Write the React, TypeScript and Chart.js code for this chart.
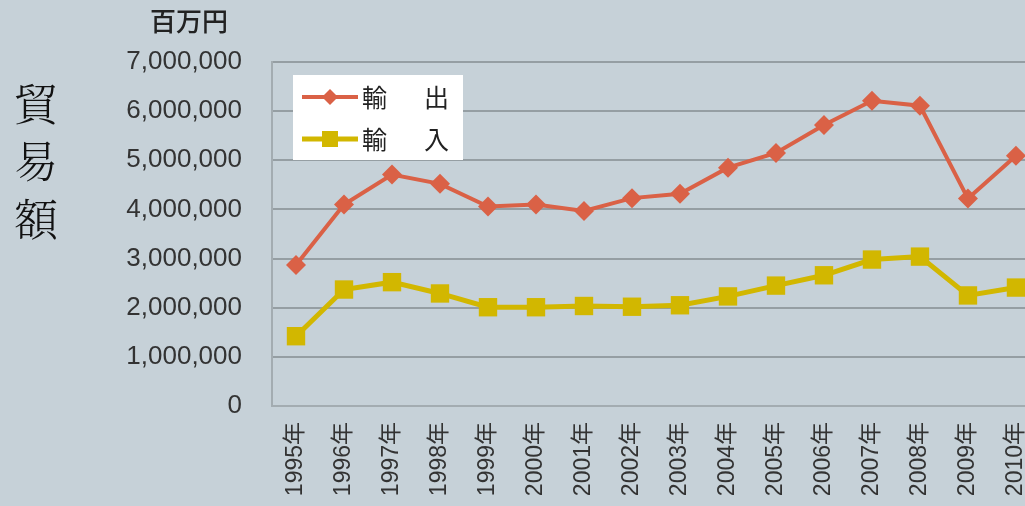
import React, { useEffect, useRef } from "react";
import { Chart, registerables } from "chart.js";

Chart.register(...registerables);

const years = [
  "1995年", "1996年", "1997年", "1998年", "1999年", "2000年", "2001年", "2002年",
  "2003年", "2004年", "2005年", "2006年", "2007年", "2008年", "2009年", "2010年",
];
const exportValues = [
  2870000, 4100000, 4710000, 4520000, 4060000, 4100000, 3970000, 4230000,
  4320000, 4850000, 5150000, 5720000, 6210000, 6110000, 4220000, 5090000,
];
const importValues = [
  1420000, 2370000, 2520000, 2290000, 2010000, 2010000, 2035000, 2020000,
  2050000, 2230000, 2450000, 2660000, 2980000, 3040000, 2250000, 2410000,
];
const seriesLabels = ["輸　出", "輸　入"];
const yTitle = "百万円";
const sideTitle = ["貿", "易", "額"];
const yTicks = { min: 0, max: 7000000, step: 1000000 };

const BG = "#c6d1d8";
const EXPORT_COLOR = "#da6146";
const IMPORT_COLOR = "#d2b700";
const TEXT = "#333333";

const extrasPlugin = {
  id: "extras",
  afterDraw(chart: any) {
    const ctx = chart.ctx;
    ctx.save();
    // y unit title
    ctx.fillStyle = "#222";
    ctx.font = '500 26px "Noto Sans CJK JP", sans-serif';
    ctx.textAlign = "left";
    ctx.textBaseline = "middle";
    ctx.fillText(yTitle, 150, 21);
    // vertical side title
    ctx.fillStyle = "#111";
    ctx.font = '300 44px "Noto Serif CJK JP", "Noto Sans CJK JP", serif';
    ctx.textAlign = "center";
    sideTitle.forEach((c, i) => ctx.fillText(c, 36, 104 + i * 57.5));

    // legend
    const bx = 293, by = 75, bw = 170, bh = 85;
    ctx.fillStyle = "#ffffff";
    ctx.fillRect(bx, by, bw, bh);
    const rows = [
      { y: 97, color: EXPORT_COLOR, lw: 4, shape: "diamond" },
      { y: 139, color: IMPORT_COLOR, lw: 5, shape: "square" },
    ];
    rows.forEach((r, i) => {
      ctx.strokeStyle = r.color;
      ctx.lineWidth = r.lw;
      ctx.beginPath();
      ctx.moveTo(302, r.y);
      ctx.lineTo(358, r.y);
      ctx.stroke();
      ctx.fillStyle = r.color;
      ctx.beginPath();
      if (r.shape === "diamond") {
        ctx.moveTo(330, r.y - 8);
        ctx.lineTo(338, r.y);
        ctx.lineTo(330, r.y + 8);
        ctx.lineTo(322, r.y);
        ctx.closePath();
        ctx.fill();
      } else {
        ctx.fillRect(322, r.y - 8, 16, 16);
      }
      const label = seriesLabels[i];
      ctx.fillStyle = "#222";
      ctx.font = '25px "Noto Sans CJK JP", sans-serif';
      ctx.textAlign = "left";
      ctx.textBaseline = "middle";
      ctx.fillText(label[0], 362, r.y);
      ctx.fillText(label[label.length - 1], 424, r.y);
    });
    ctx.restore();
  },
};

export default function App() {
  const ref = useRef<HTMLCanvasElement | null>(null);

  useEffect(() => {
    if (!ref.current) return;
    const chart = new Chart(ref.current, {
      type: "line",
      data: {
        labels: years,
        datasets: [
          {
            label: seriesLabels[0],
            data: exportValues,
            borderColor: EXPORT_COLOR,
            backgroundColor: EXPORT_COLOR,
            borderWidth: 4,
            pointStyle: "rectRot",
            pointRadius: 10,
            pointBorderWidth: 0,
            tension: 0,
          },
          {
            label: seriesLabels[1],
            data: importValues,
            borderColor: IMPORT_COLOR,
            backgroundColor: IMPORT_COLOR,
            borderWidth: 5,
            pointStyle: "rect",
            pointRadius: 13,
            pointBorderWidth: 0,
            tension: 0,
          },
        ],
      },
      options: {
        animation: false,
        responsive: false,
        events: [],
        layout: { padding: { top: 62, right: 14, left: 0, bottom: 0 } },
        plugins: {
          legend: { display: false },
          tooltip: { enabled: false },
          title: { display: false },
        },
        scales: {
          x: {
            type: "category",
            offset: true,
            grid: { display: false, drawTicks: false },
            border: { display: true, color: "#a3acb1", width: 2 },
            ticks: {
              minRotation: 90,
              maxRotation: 90,
              padding: 16,
              color: TEXT,
              font: { family: '"Liberation Sans", "Noto Sans CJK JP", sans-serif', size: 23 },
              autoSkip: false,
            },
            afterFit(scale: any) {
              scale.height = 100;
            },
          },
          y: {
            min: yTicks.min,
            max: yTicks.max,
            grid: { color: "#959ea3", lineWidth: 2, drawTicks: false },
            border: { display: true, color: "#a3acb1", width: 2 },
            ticks: {
              stepSize: yTicks.step,
              padding: 30,
              color: TEXT,
              font: { family: '"Liberation Sans", Arial, sans-serif', size: 26 },
              callback: (v: any) => Number(v).toLocaleString("en-US"),
            },
            afterFit(scale: any) {
              scale.width = 272;
            },
          },
        },
      },
      plugins: [extrasPlugin],
    });
    return () => chart.destroy();
  }, []);

  return (
    <div
      style={{
        position: "fixed",
        left: 0,
        top: 0,
        width: 1025,
        height: 506,
        overflow: "hidden",
        background: BG,
      }}
    >
      <canvas ref={ref} width={1060} height={506} style={{ display: "block" }} />
    </div>
  );
}
